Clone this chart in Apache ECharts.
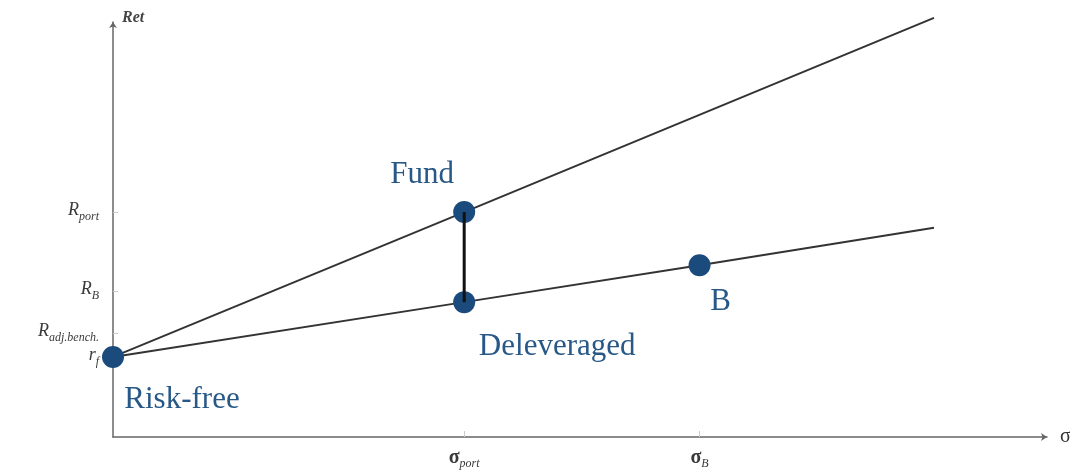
<!DOCTYPE html>
<html>
<head>
<meta charset="utf-8">
<script src="https://cdn.jsdelivr.net/npm/echarts@6/dist/echarts.min.js"></script>
<style>
  html, body { margin: 0; padding: 0; background: #fff; }
  #chart { width: 1070px; height: 470px; }
</style>
</head>
<body>
<div id="chart"></div>
<script>
// schematic: risk (sigma) on x, return on y, arbitrary units 0..10
var pointNames = ['Risk-free', 'Fund', 'Deleveraged', 'B'];
var pointX = [0, 3.76, 3.76, 6.28];
var pointY = [1.93, 5.42, 3.25, 4.14];

// capital lines run from the risk-free point out to the right
var fundLineX = [0, 3.76, 8.79];
var fundLineY = [1.93, 5.42, 10.10];
var benchLineX = [0, 3.76, 6.28, 8.79];
var benchLineY = [1.93, 3.25, 4.14, 5.04];

var xTickValues = [3.76, 6.28];
var xTickLabels = [['σ', 'port'], ['σ', 'B']];
var yTickValues = [1.93, 2.51, 3.52, 5.42];
var yTickLabels = [['r', 'f'], ['R', 'adj.bench.'], ['R', 'B'], ['R', 'port']];

var chart = echarts.init(document.getElementById('chart'));

var serif = 'Liberation Serif';
var ptColor = '#1b4a7c';
var txtColor = '#285887';

function pairs(xs, ys) {
  return xs.map(function (x, i) { return [x, ys[i]]; });
}

function tickFormatter(values, labels, mainStyle) {
  return function (v) {
    for (var i = 0; i < values.length; i++) {
      if (Math.abs(values[i] - v) < 1e-6) {
        return '{' + mainStyle + '|' + labels[i][0] + '}{s|' + labels[i][1] + '}';
      }
    }
    return '';
  };
}

// where each text label sits relative to its dot (pixels)
var labelOffsets = {
  'Risk-free': [69, 43],
  'Fund': [-42, -37],
  'Deleveraged': [93, 45],
  'B': [21, 37]
};

var subRich = {
  m: { fontFamily: serif, fontStyle: 'italic', fontSize: 18, lineHeight: 22, verticalAlign: 'top', color: '#3a3a3a' },
  g: { fontFamily: serif, fontWeight: 'bold', fontSize: 20, lineHeight: 22, verticalAlign: 'top', color: '#3a3a3a' },
  s: { fontFamily: serif, fontStyle: 'italic', fontSize: 12, lineHeight: 17, verticalAlign: 'bottom', color: '#3a3a3a' }
};

option = {
  animation: false,
  backgroundColor: '#fff',
  grid: { left: 113, right: 23, top: 22, bottom: 33, containLabel: false, outerBoundsMode: 'none' },
  xAxis: {
    type: 'value',
    min: 0,
    max: 10,
    name: 'σ',
    nameLocation: 'end',
    nameGap: 13,
    nameTextStyle: { fontFamily: serif, fontSize: 20, color: '#333', verticalAlign: 'middle' },
    splitLine: { show: false },
    axisLine: { lineStyle: { color: '#666', width: 1.5 }, symbol: ['none', 'arrow'], symbolSize: [6, 6] },
    axisTick: { show: true, inside: true, length: 6, lineStyle: { color: '#ccc' }, customValues: xTickValues },
    axisLabel: {
      margin: 11,
      customValues: xTickValues,
      formatter: tickFormatter(xTickValues, xTickLabels, 'g'),
      rich: subRich
    }
  },
  yAxis: {
    type: 'value',
    min: 0,
    max: 10,
    name: 'Ret',
    nameLocation: 'end',
    nameGap: 4,
    nameTextStyle: { fontFamily: serif, fontStyle: 'italic', fontWeight: 'bold', fontSize: 16, color: '#444', align: 'left', verticalAlign: 'middle', padding: [0, 0, 0, 9] },
    splitLine: { show: false },
    axisLine: { lineStyle: { color: '#666', width: 1.5 }, symbol: ['none', 'arrow'], symbolSize: [6, 6] },
    axisTick: { show: true, inside: true, length: 5, lineStyle: { color: '#ccc' }, customValues: yTickValues },
    axisLabel: {
      margin: 14,
      customValues: yTickValues,
      formatter: tickFormatter(yTickValues, yTickLabels, 'm'),
      rich: subRich
    }
  },
  series: [
    {
      name: 'fund line',
      type: 'line',
      clip: false,
      showSymbol: false,
      silent: true,
      lineStyle: { color: '#333', width: 2 },
      data: pairs(fundLineX, fundLineY)
    },
    {
      name: 'benchmark line',
      type: 'line',
      clip: false,
      showSymbol: false,
      silent: true,
      lineStyle: { color: '#333', width: 2 },
      data: pairs(benchLineX, benchLineY)
    },
    {
      name: 'points',
      type: 'scatter',
      clip: false,
      z: 5,
      symbolSize: 22,
      itemStyle: { color: ptColor, opacity: 1 },
      data: pointNames.map(function (n, i) {
        return {
          name: n,
          value: [pointX[i], pointY[i]],
          label: { offset: labelOffsets[n] }
        };
      }),
      label: {
        show: true,
        position: 'inside',
        formatter: '{b}',
        fontFamily: serif,
        fontSize: 31,
        color: txtColor
      }
    },
    {
      name: 'deleverage',
      type: 'line',
      z: 6,
      showSymbol: false,
      silent: true,
      lineStyle: { color: '#111', width: 3 },
      data: [[pointX[1], pointY[1]], [pointX[2], pointY[2]]]
    }
  ]
};

chart.setOption(option);
</script>
</body>
</html>
